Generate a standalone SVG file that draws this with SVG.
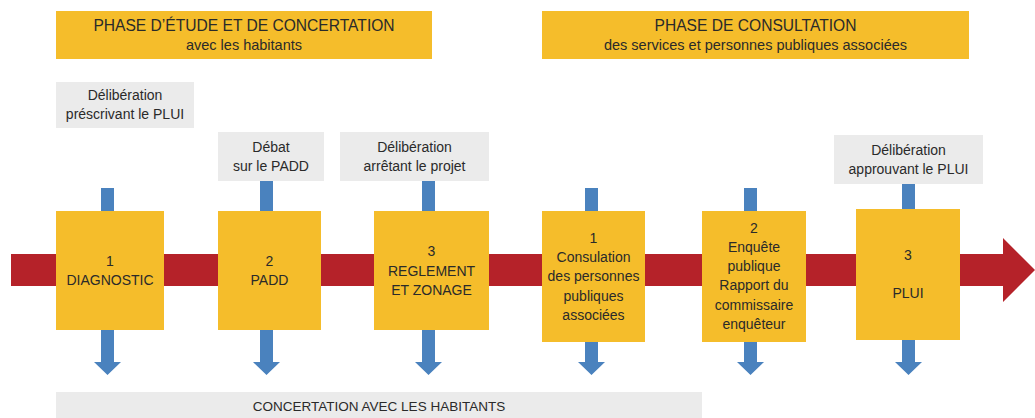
<svg xmlns="http://www.w3.org/2000/svg" width="1035" height="418" viewBox="0 0 1035 418">
<defs>
<style>
text{font-family:"Liberation Sans",Arial,sans-serif;fill:#2a2a2a;text-anchor:middle}
.yel{fill:#F5BD2B}
.gray{fill:#EBEBEB}
.blue{fill:#4A82BE}
.t13{font-size:13.5px}
.t14{font-size:14px}
.ts{font-size:14.5px}
.tb{font-size:15.6px}
</style>
</defs>
<rect width="1035" height="418" fill="#ffffff"/>

<g id="phase-etude">
<rect class="yel" x="56" y="11" width="376" height="48"/>
<text class="tb" x="244" y="31">PHASE D’ÉTUDE ET DE CONCERTATION</text>
<text class="ts" x="244" y="50">avec les habitants</text>
</g>
<g id="phase-consultation">
<rect class="yel" x="542" y="11" width="427" height="48"/>
<text class="tb" x="755.5" y="31">PHASE DE CONSULTATION</text>
<text class="ts" x="755.5" y="50">des services et personnes publiques associées</text>
</g>

<g id="timeline">
<path fill="#B52229" d="M11 254 H1003 V238 L1035 270 L1003 302 V286 H11 Z"/>
</g>

<g id="connectors">
<rect class="blue" x="101" y="188" width="13" height="23"/>
<rect class="blue" x="260" y="181" width="13" height="30"/>
<rect class="blue" x="422" y="181" width="13" height="30"/>
<rect class="blue" x="585" y="188" width="13" height="23"/>
<rect class="blue" x="744" y="188" width="13" height="23"/>
<rect class="blue" x="902" y="184" width="13" height="25"/>
<path class="blue" d="M101 330 H114 V362 H121 L107.5 375 L94 362 H101 Z"/>
<path class="blue" d="M260 330 H273 V362 H280 L266.5 375 L253 362 H260 Z"/>
<path class="blue" d="M422 330 H435 V362 H442 L428.5 375 L415 362 H422 Z"/>
<path class="blue" d="M585 342 H598 V362 H605 L591.5 375 L578 362 H585 Z"/>
<path class="blue" d="M744 342 H757 V362 H764 L750.5 375 L737 362 H744 Z"/>
<path class="blue" d="M902 340 H915 V362 H922 L908.5 375 L895 362 H902 Z"/>
</g>

<g id="delib-prescrivant">
<rect class="gray" x="56" y="82" width="138" height="46"/>
<text class="t14" x="125" y="100">Délibération</text>
<text class="t14" x="125" y="119">préscrivant le PLUI</text>
</g>
<g id="debat-padd">
<rect class="gray" x="218" y="132" width="106" height="49"/>
<text class="t14" x="271" y="152">Débat</text>
<text class="t14" x="271" y="171">sur le PADD</text>
</g>
<g id="delib-arretant">
<rect class="gray" x="340" y="132" width="149" height="49"/>
<text class="t14" x="414.5" y="152">Délibération</text>
<text class="t14" x="414.5" y="171">arrêtant le projet</text>
</g>
<g id="delib-approuvant">
<rect class="gray" x="834" y="135" width="149" height="49"/>
<text class="t14" x="908.5" y="155">Délibération</text>
<text class="t14" x="908.5" y="174">approuvant le PLUI</text>
</g>

<g id="diagnostic">
<rect class="yel" x="56" y="211" width="108" height="119"/>
<text class="t14" x="110" y="266">1</text>
<text class="t14" x="110" y="285">DIAGNOSTIC</text>
</g>
<g id="padd">
<rect class="yel" x="218" y="211" width="103" height="119"/>
<text class="t14" x="269.5" y="266">2</text>
<text class="t14" x="269.5" y="285">PADD</text>
</g>
<g id="reglement">
<rect class="yel" x="374" y="211" width="115" height="119"/>
<text class="t14" x="431.5" y="256">3</text>
<text class="t14" x="431.5" y="276">REGLEMENT</text>
<text class="t14" x="431.5" y="295">ET ZONAGE</text>
</g>
<g id="consultation">
<rect class="yel" x="542" y="211" width="103" height="131"/>
<text class="t14" x="593.5" y="243">1</text>
<text class="t14" x="593.5" y="262">Consulation</text>
<text class="t14" x="593.5" y="281">des personnes</text>
<text class="t14" x="593.5" y="301">publiques</text>
<text class="t14" x="593.5" y="320">associées</text>
</g>
<g id="enquete">
<rect class="yel" x="702" y="211" width="104" height="131"/>
<text class="t14" x="754" y="233">2</text>
<text class="t14" x="754" y="252">Enquête</text>
<text class="t14" x="754" y="271">publique</text>
<text class="t14" x="754" y="290">Rapport du</text>
<text class="t14" x="754" y="310">commissaire</text>
<text class="t14" x="754" y="329">enquêteur</text>
</g>
<g id="plui">
<rect class="yel" x="856" y="209" width="104" height="131"/>
<text class="t14" x="908" y="260">3</text>
<text class="t14" x="908" y="298">PLUI</text>
</g>

<g id="concertation">
<rect class="gray" x="56" y="392" width="646" height="26"/>
<text class="t13" x="379" y="411">CONCERTATION AVEC LES HABITANTS</text>
</g>
</svg>
